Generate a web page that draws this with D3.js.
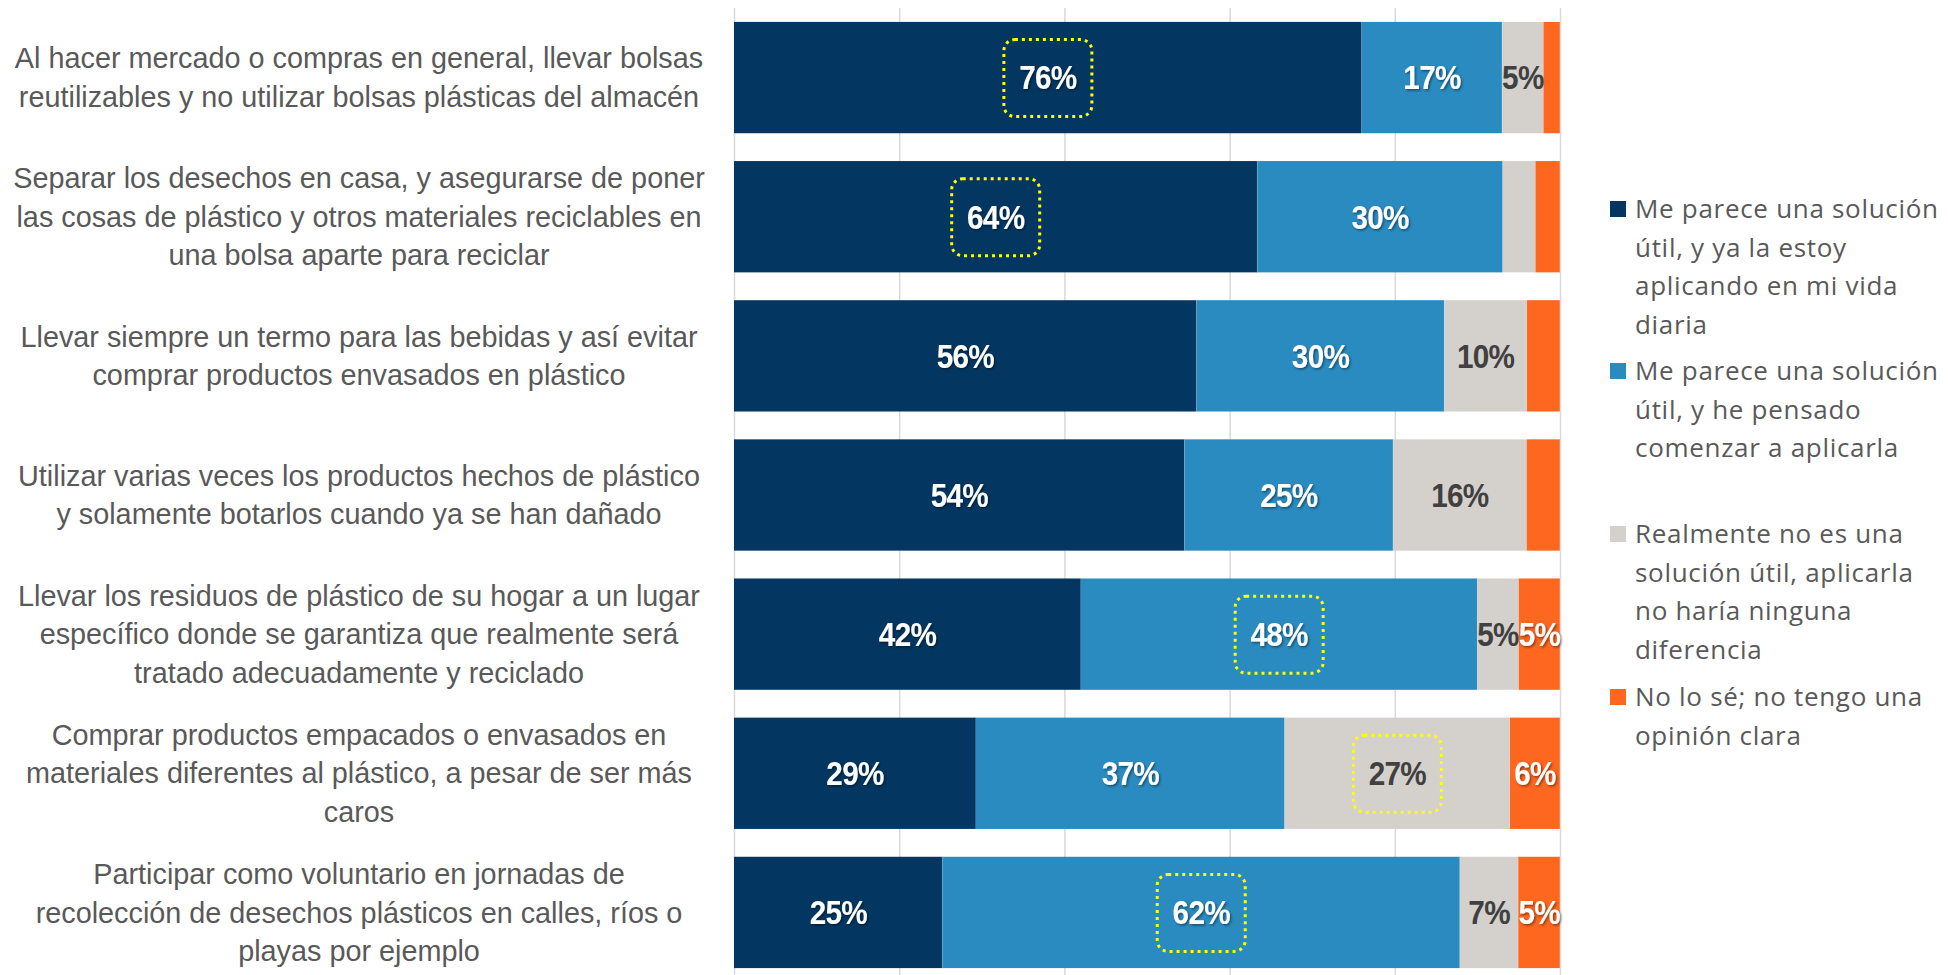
<!DOCTYPE html>
<html>
<head>
<meta charset="utf-8">
<script src="https://cdn.jsdelivr.net/npm/d3@7"></script>
<style>
  body { margin: 0; background: #fff; }
  svg { display: block; }
</style>
</head>
<body>
<div id="chart"></div>
<script>
// categories, one entry per bar, already wrapped into lines
const categories = [
    ["Al hacer mercado o compras en general, llevar bolsas", "reutilizables y no utilizar bolsas plásticas del almacén"],
    ["Separar los desechos en casa, y asegurarse de poner", "las cosas de plástico y otros materiales reciclables en", "una bolsa aparte para reciclar"],
    ["Llevar siempre un termo para las bebidas y así evitar", "comprar productos envasados en plástico"],
    ["Utilizar varias veces los productos hechos de plástico", "y solamente botarlos cuando ya se han dañado"],
    ["Llevar los residuos de plástico de su hogar a un lugar", "específico donde se garantiza que realmente será", "tratado adecuadamente y reciclado"],
    ["Comprar productos empacados o envasados en", "materiales diferentes al plástico, a pesar de ser más", "caros"],
    ["Participar como voluntario en jornadas de", "recolección de desechos plásticos en calles, ríos o", "playas por ejemplo"]
];

const seriesNames = [
    ["Me parece una solución", "útil, y ya la estoy", "aplicando en mi vida", "diaria"],
    ["Me parece una solución", "útil, y he pensado", "comenzar a aplicarla"],
    ["Realmente no es una", "solución útil, aplicarla", "no haría ninguna", "diferencia"],
    ["No lo sé; no tengo una", "opinión clara"]
];

const yaAplica  = [76, 64, 56, 54, 42, 29, 25];
const piensa    = [17, 30, 30, 25, 48, 37, 62];
const noUtil    = [5, 4, 10, 16, 5, 27, 7];
const noSabe    = [2, 3, 4, 4, 5, 6, 5];

// which values carry a data label (false = no label shown)
const showLabel = [
    [true, true, true, true, true, true, true],
    [true, true, true, true, true, true, true],
    [true, false, true, true, true, true, true],
    [false, false, false, false, true, true, true]
];

// highlighted labels: [row, series]
const highlights = [[0, 0], [1, 0], [4, 1], [5, 2], [6, 1]];

const xTicks = [0, 0.2, 0.4, 0.6, 0.8, 1];

const colors = ["#033761", "#2A8BC0", "#D4D0CC", "#FE671F"];
const labelColors = ["#ffffff", "#ffffff", "#404040", "#ffffff"];

const W = 1948, H = 975;
const svg = d3.select("#chart").append("svg")
    .attr("width", W)
    .attr("height", H);

const defs = svg.append("defs");
const shadow = defs.append("filter").attr("id", "shadow")
    .attr("x", "-20%").attr("y", "-20%").attr("width", "140%").attr("height", "140%");
shadow.append("feDropShadow")
    .attr("dx", 1.5).attr("dy", 1.5).attr("stdDeviation", 1.2)
    .attr("flood-color", "#000").attr("flood-opacity", 0.45);

const x = d3.scaleLinear().domain([0, 1]).range([734, 1560]);
const y = d3.scaleBand()
    .domain(d3.range(categories.length))
    .range([8, 982])
    .paddingInner(0.2)
    .paddingOuter(0.1);

// gridlines
const grid = svg.append("g")
    .attr("transform", "translate(0,8)")
    .call(d3.axisBottom(x).tickValues(xTicks).tickSize(H - 8).tickFormat(""));
grid.select(".domain").remove();
grid.selectAll("line").attr("stroke", "#D9D9D9").attr("stroke-width", 1.5);

// stack
const rows = categories.map((c, i) => ({
    i: i, s0: yaAplica[i], s1: piensa[i], s2: noUtil[i], s3: noSabe[i]
}));
const stack = d3.stack().keys(["s0", "s1", "s2", "s3"])
    .offset(d3.stackOffsetExpand);
const layers = stack(rows);

const layer = svg.append("g").selectAll("g")
    .data(layers)
    .join("g")
    .attr("fill", (d, k) => colors[k]);

layer.selectAll("rect")
    .data(d => d)
    .join("rect")
    .attr("x", d => x(d[0]))
    .attr("y", d => y(d.data.i))
    .attr("width", d => x(d[1]) - x(d[0]))
    .attr("height", y.bandwidth());

// thin separators between segments
layer.selectAll("line.sep")
    .data(d => d)
    .join("line")
    .attr("class", "sep")
    .attr("x1", d => x(d[1])).attr("x2", d => x(d[1]))
    .attr("y1", d => y(d.data.i)).attr("y2", d => y(d.data.i) + y.bandwidth())
    .attr("stroke", "#ffffff").attr("stroke-opacity", 0.35).attr("stroke-width", 1);

// data labels (squeezed horizontally to look like a condensed face)
const rawSeries = [yaAplica, piensa, noUtil, noSabe];
const labels = svg.append("g")
    .style("font-family", "'Liberation Sans Narrow', 'Arial Narrow', sans-serif")
    .style("font-weight", "bold")
    .style("font-size", "33px")
    .style("letter-spacing", "-0.8px");

layers.forEach((ly, k) => {
    ly.forEach(d => {
        const i = d.data.i;
        if (!showLabel[k][i]) return;
        const cx = x((d[0] + d[1]) / 2);
        const cy = y(i) + y.bandwidth() / 2;
        labels.append("text")
            .attr("transform", "translate(" + cx + "," + cy + ") scale(0.9,1)")
            .attr("dy", "0.36em")
            .attr("text-anchor", "middle")
            .attr("fill", labelColors[k])
            .attr("filter", k === 2 ? null : "url(#shadow)")
            .text(rawSeries[k][i] + "%");
    });
});

// highlight boxes
svg.append("g").selectAll("rect")
    .data(highlights)
    .join("rect")
    .attr("x", d => x((layers[d[1]][d[0]][0] + layers[d[1]][d[0]][1]) / 2) - 44)
    .attr("y", d => y(d[0]) + y.bandwidth() / 2 - 38)
    .attr("width", 88)
    .attr("height", 77)
    .attr("rx", 11)
    .attr("fill", "none")
    .attr("stroke", "#FFFF00")
    .attr("stroke-width", 3)
    .attr("stroke-dasharray", "3 4");

// category labels
const lineH = 38.5;
const cat = svg.append("g")
    .style("font-family", "'Liberation Sans Narrow', 'Arial Narrow', sans-serif")
    .style("font-size", "28.8px")
    .attr("fill", "#595959");

categories.forEach((lines, i) => {
    const cy = y(i) + y.bandwidth() / 2;
    const t = cat.append("text")
        .attr("text-anchor", "middle")
        .attr("x", 359);
    lines.forEach((ln, j) => {
        t.append("tspan")
            .attr("x", 359)
            .attr("y", cy + (j - (lines.length - 1) / 2) * lineH)
            .attr("dy", "0.35em")
            .text(ln);
    });
});

// legend
const legendTop = [209, 371, 534, 697];
const legend = svg.append("g")
    .style("font-family", "'Open Sans', sans-serif")
    .style("font-size", "26px")
    .style("letter-spacing", "0.7px")
    .attr("fill", "#595959");

seriesNames.forEach((lines, k) => {
    legend.append("rect")
        .attr("x", 1610)
        .attr("y", legendTop[k] - 8)
        .attr("width", 16)
        .attr("height", 16)
        .attr("fill", colors[k]);
    const t = legend.append("text");
    lines.forEach((ln, j) => {
        t.append("tspan")
            .attr("x", 1635)
            .attr("y", legendTop[k] + j * lineH)
            .attr("dy", "0.35em")
            .text(ln);
    });
});
</script>
</body>
</html>
